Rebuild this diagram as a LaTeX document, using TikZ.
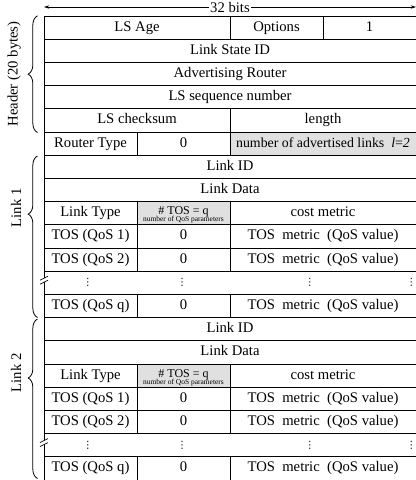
\documentclass[tikz,border=0pt]{standalone}
\usepackage{fontspec}
\setmainfont{Liberation Serif}
\newfontfamily\dejavu{DejaVu Sans}
\usetikzlibrary{decorations.pathreplacing,arrows.meta}
\definecolor{cellgrey}{gray}{0.88}
\tikzset{
  cellst/.style={draw, line width=0.6pt, rectangle, inner sep=0pt, minimum height=17.4pt,
     text height=7.6pt, text depth=2.4pt, font=\fontsize{11}{13}\selectfont},
  greycell/.style={fill=cellgrey},
  brc/.style={decorate, line width=0.6pt, decoration={brace, amplitude=7pt, #1}},
  lbl/.style={rotate=90, font=\fontsize{11}{13}\selectfont},
  dotst/.style={inner sep=0pt, font=\dejavu\fontsize{7.5}{7.5}\selectfont},
  smallt/.style={inner sep=0pt},
}
\newcommand\tcell[6][]{\node[cellst,#1,minimum width={#4*69.75pt}] (#2) at ({44+93*#3+46.5*#4},{16+23.2*#5+11.6}) {#6};}
\begin{document}
\begin{tikzpicture}[x=0.75pt,y=-0.75pt]
\useasboundingbox (0,0) rectangle (416,480);
% top arrow
\coordinate (al) at (44,7);
\coordinate (ar) at (416,7);
\draw[{Stealth[length=4pt,width=2.5pt]}-{Stealth[length=4pt,width=2.5pt]}, line width=0.5pt] (al) -- (ar);
\node[fill=white, inner sep=1pt, font=\fontsize{11}{13}\selectfont] (bits) at (230,7) {32 bits};
% header
\tcell{lsage}{0}{2}{0}{LS Age}
\tcell{opt}{2}{1}{0}{Options}
\tcell{one}{3}{1}{0}{1}
\tcell{lsid}{0}{4}{1}{Link State ID}
\tcell{advr}{0}{4}{2}{Advertising Router}
\tcell{lsseq}{0}{4}{3}{LS sequence number}
\tcell{cks}{0}{2}{4}{LS checksum}
\tcell{len}{2}{2}{4}{length}
\tcell{rtype}{0}{1}{5}{Router Type}
\tcell{zr}{1}{1}{5}{0}
\tcell[greycell,font=\fontsize{10.4}{12}\selectfont]{nadv}{2}{2}{5}{number of advertised links\ \ \textit{l}=\textit{2}}
% link 1
\tcell{lidA}{0}{4}{6}{Link ID}
\tcell{ldA}{0}{4}{7}{Link Data}
\tcell{ltA}{0}{1}{8}{Link Type}
\tcell[greycell]{ntA}{1}{1}{8}{}
\tcell{cmA}{2}{2}{8}{cost metric}
\tcell{tAa}{0}{1}{9}{TOS (QoS 1)}
\tcell{zAa}{1}{1}{9}{0}
\tcell{mAa}{2}{2}{9}{TOS\ \ metric\ \ (QoS value)}
\tcell{tAb}{0}{1}{10}{TOS (QoS 2)}
\tcell{zAb}{1}{1}{10}{0}
\tcell{mAb}{2}{2}{10}{TOS\ \ metric\ \ (QoS value)}
\tcell{dotsA}{0}{4}{11}{}
\tcell{tAq}{0}{1}{12}{TOS (QoS q)}
\tcell{zAq}{1}{1}{12}{0}
\tcell{mAq}{2}{2}{12}{TOS\ \ metric\ \ (QoS value)}
% link 2
\tcell{lidB}{0}{4}{13}{Link ID}
\tcell{ldB}{0}{4}{14}{Link Data}
\tcell{ltB}{0}{1}{15}{Link Type}
\tcell[greycell]{ntB}{1}{1}{15}{}
\tcell{cmB}{2}{2}{15}{cost metric}
\tcell{tBa}{0}{1}{16}{TOS (QoS 1)}
\tcell{zBa}{1}{1}{16}{0}
\tcell{mBa}{2}{2}{16}{TOS\ \ metric\ \ (QoS value)}
\tcell{tBb}{0}{1}{17}{TOS (QoS 2)}
\tcell{zBb}{1}{1}{17}{0}
\tcell{mBb}{2}{2}{17}{TOS\ \ metric\ \ (QoS value)}
\tcell{dotsB}{0}{4}{18}{}
\tcell{tBq}{0}{1}{19}{TOS (QoS q)}
\tcell{zBq}{1}{1}{19}{0}
\tcell{mBq}{2}{2}{19}{TOS\ \ metric\ \ (QoS value)}
% "# TOS" texts
\foreach \r/\s in {8/A,15/B}{
  \node[smallt, font=\fontsize{9}{9}\selectfont] (tq\s) at (183.5,{16+23.2*\r+10.5}) {\# TOS = q};
  \node[smallt, font=\fontsize{5.6}{6}\selectfont] (np\s) at (183.5,{16+23.2*\r+18.3}) {number of QoS parameters};
}
% dots
\foreach \r/\s in {11/A,18/B}{
  \foreach \xx/\k in {88/1,182/2,310/3,411.5/4}{
    \node[dotst] (vd\s\k) at (\xx,{16+23.2*\r+11.6}) {⋮};
  }
  \fill[white] (40,{16+23.2*\r+9}) -- (48,{16+23.2*\r+5}) -- (48,{16+23.2*\r+9}) -- (40,{16+23.2*\r+13}) -- cycle;
  \draw[line width=0.5pt] (40,{16+23.2*\r+9}) -- (48,{16+23.2*\r+5});
  \draw[line width=0.5pt] (40,{16+23.2*\r+13}) -- (48,{16+23.2*\r+9});
}
% braces
\coordinate (hb) at (37.5,132.5);
\coordinate (ht) at (37.5,15.8);
\coordinate (ab) at (37.5,317.5);
\coordinate (at) at (37.5,156);
\coordinate (bb) at (37.5,478.5);
\coordinate (bt) at (37.5,319);
\draw[brc={aspect=0.5}] (hb) -- (ht);
\draw[brc={aspect=0.64}] (ab) -- (at);
\draw[brc={aspect=0.63}] (bb) -- (bt);
\node[lbl] (hdr) at (14,74) {Header (20 bytes)};
\node[lbl] (lk1) at (16,208) {Link 1};
\node[lbl] (lk2) at (16,373) {Link 2};
\end{tikzpicture}
\end{document}
